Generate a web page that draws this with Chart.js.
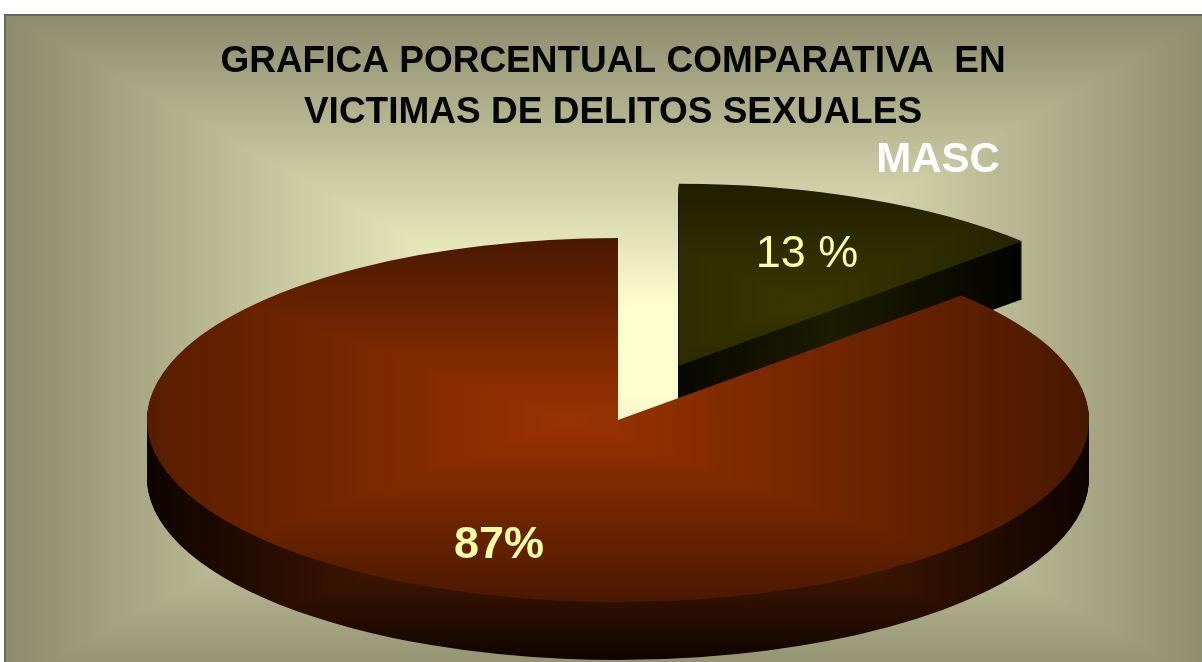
<!DOCTYPE html>
<html>
<head>
<meta charset="utf-8">
<title>Grafica porcentual</title>
<style>
  html, body { margin: 0; padding: 0; background: #fff; overflow: hidden; }
  canvas { display: block; }
</style>
<script src="https://cdn.jsdelivr.net/npm/chart.js@4"></script>
</head>
<body>
<canvas id="pieChart" width="1202" height="662"></canvas>
<script>
const titleLines = ['GRAFICA PORCENTUAL COMPARATIVA  EN', 'VICTIMAS DE DELITOS SEXUALES'];
const categories = ['MASC', 'FEM'];
const values = [13, 87];
const valueLabels = ['13 %', '87%'];

const W = 1202, H = 662;
// pie geometry on screen: ellipse of the tilted disc
const PIE_X = 618, PIE_Y = 420, PIE_RX = 471, PIE_RY = 182, DEPTH = 58;
const EXPLODE = [0.325, 0];

// gradient that follows rectangles from a centre outwards (the office "path" fill)
function rectGradient(cx, cy, hw, hh, inner, outer, plateau) {
  const c = document.createElement('canvas');
  c.width = W; c.height = H;
  const g = c.getContext('2d');
  const img = g.createImageData(W, H);
  const flat = plateau || 0;
  for (let y = 0; y < H; y++) {
    for (let x = 0; x < W; x++) {
      const r = Math.min(1, Math.max(Math.abs(x - cx) / hw, Math.abs(y - cy) / hh));
      const t = Math.max(0, r - flat) / (1 - flat);
      const i = (y * W + x) * 4;
      img.data[i] = inner[0] + (outer[0] - inner[0]) * t;
      img.data[i + 1] = inner[1] + (outer[1] - inner[1]) * t;
      img.data[i + 2] = inner[2] + (outer[2] - inner[2]) * t;
      img.data[i + 3] = 255;
    }
  }
  g.putImageData(img, 0, 0);
  return c;
}

const backImg = rectGradient(610, 350, 605, 336, [255, 255, 208], [139, 139, 109], 0.12);
const mainTop = rectGradient(570, 420, 520, 186, [154, 51, 0], [72, 24, 0]);
const mainSide = rectGradient(618, 480, 471, 182, [111, 40, 0], [14, 4, 0]);
const mascTop = rectGradient(800, 300, 300, 125, [58, 54, 0], [30, 30, 0]);
const mascSide = rectGradient(830, 300, 190, 2000, [28, 28, 0], [2, 2, 0]);

const tilted3d = {
  id: 'tilted3d',
  beforeDraw(chart) {
    const ctx = chart.ctx;
    ctx.fillStyle = '#fff';
    ctx.fillRect(0, 0, W, H);
    ctx.drawImage(backImg, 5, 15, W - 5, H - 15, 5, 15, W - 5, H - 15);
    ctx.fillStyle = '#666';
    ctx.fillRect(4, 14, W - 4, 2);
    ctx.fillRect(4, 14, 2, H - 14);
  },
  beforeDatasetsDraw(chart) {
    const ctx = chart.ctx;
    const arcs = chart.getDatasetMeta(0).data;
    const fills = [[mascSide, mascTop], [mainSide, mainTop]];

    function paint(arc, index, img, drop) {
      const mid = (arc.startAngle + arc.endAngle) / 2;
      const s = PIE_RX / arc.outerRadius;
      const k = PIE_RY / PIE_RX;
      ctx.save();
      ctx.translate(PIE_X, PIE_Y + drop);
      ctx.scale(s, s * k);
      ctx.translate(
        Math.cos(mid) * EXPLODE[index] * arc.outerRadius - arc.x,
        Math.sin(mid) * EXPLODE[index] * arc.outerRadius - arc.y
      );
      const pattern = ctx.createPattern(img, 'no-repeat');
      pattern.setTransform(ctx.getTransform().inverse());
      const saved = arc.options;
      arc.options = { ...saved, backgroundColor: pattern, borderWidth: 0 };
      arc.draw(ctx);
      arc.options = saved;
      ctx.restore();
    }

    arcs.forEach((arc, i) => {
      for (let d = DEPTH; d > 0; d--) paint(arc, i, fills[i][0], d);
      paint(arc, i, fills[i][1], 0);
    });
    return false;
  },
  afterDraw(chart) {
    const ctx = chart.ctx;
    ctx.save();
    ctx.textAlign = 'center';
    ctx.textBaseline = 'middle';
    ctx.fillStyle = '#ffffa6';
    ctx.font = '45px "Liberation Sans"';
    ctx.fillText(valueLabels[0], 807, 255);
    ctx.font = 'bold 45px "Liberation Sans"';
    ctx.fillText(valueLabels[1], 499, 546);
    ctx.fillStyle = '#fff';
    ctx.font = 'bold 42px "Liberation Sans"';
    ctx.fillText(categories[0], 938, 160);
    ctx.restore();
  }
};

new Chart(document.getElementById('pieChart'), {
  type: 'pie',
  data: {
    labels: categories,
    datasets: [{ data: values, backgroundColor: ['#2a2a00', '#7a2800'], borderWidth: 0, hoverOffset: 0 }]
  },
  options: {
    responsive: false,
    animation: false,
    events: [],
    devicePixelRatio: 1,
    layout: { padding: { left: 24 } },
    plugins: {
      legend: { display: false },
      tooltip: { enabled: false },
      title: {
        display: true,
        text: titleLines,
        color: '#050505',
        font: { family: '"Liberation Sans"', size: 37, weight: 'bold', lineHeight: 1.36 },
        padding: { top: 37, bottom: 10 }
      }
    }
  },
  plugins: [tilted3d]
});
</script>
</body>
</html>
